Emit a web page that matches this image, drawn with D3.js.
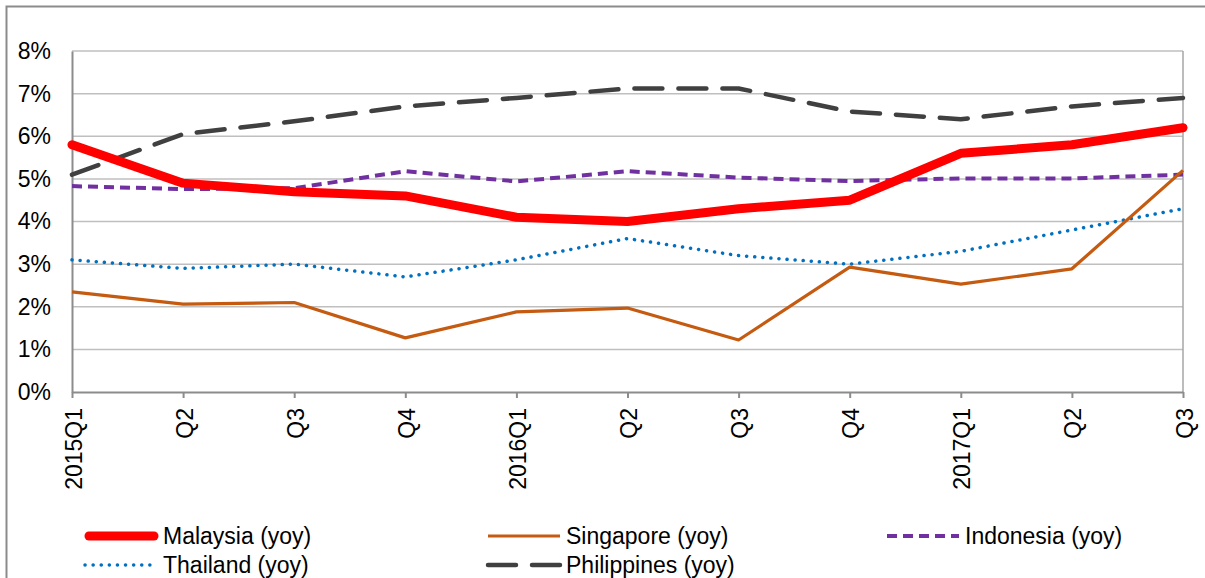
<!DOCTYPE html>
<html>
<head>
<meta charset="utf-8">
<script src="https://cdn.jsdelivr.net/npm/d3@7"></script>
<style>
  body { margin: 0; background: #fff; }
  #chart { width: 1205px; height: 578px; }
  text { font-family: "Liberation Sans", Arial, sans-serif; fill: #000; }
</style>
</head>
<body>
<div id="chart"></div>
<script>
// quarter labels along the x axis
const quarters = ['2015Q1', 'Q2', 'Q3', 'Q4', '2016Q1', 'Q2', 'Q3', 'Q4', '2017Q1', 'Q2', 'Q3'];
const yTicks = [0, 1, 2, 3, 4, 5, 6, 7, 8];

// yoy growth, %
const malaysia    = [5.8, 4.9, 4.7, 4.6, 4.1, 4.0, 4.3, 4.5, 5.6, 5.8, 6.2];
const singapore   = [2.35, 2.06, 2.1, 1.27, 1.88, 1.97, 1.22, 2.93, 2.53, 2.89, 5.2];
const indonesia   = [4.83, 4.76, 4.78, 5.18, 4.94, 5.18, 5.03, 4.95, 5.01, 5.01, 5.1];
const thailand    = [3.1, 2.9, 3.0, 2.7, 3.1, 3.6, 3.2, 3.0, 3.3, 3.8, 4.3];
const philippines = [5.1, 6.05, 6.35, 6.7, 6.9, 7.12, 7.12, 6.58, 6.4, 6.7, 6.9];

const series = [
  { name: 'Malaysia (yoy)', values: malaysia, color: '#FF0000', width: 9, dash: null, cap: 'round' },
  { name: 'Singapore (yoy)', values: singapore, color: '#C55A11', width: 3.2, dash: null, cap: 'butt' },
  { name: 'Indonesia (yoy)', values: indonesia, color: '#7030A0', width: 4, dash: '10,6', cap: 'butt' },
  { name: 'Thailand (yoy)', values: thailand, color: '#0070C0', width: 3.5, dash: '0.1,8', cap: 'round' },
  { name: 'Philippines (yoy)', values: philippines, color: '#404040', width: 4.5, dash: '28,16', cap: 'round' }
];

const svg = d3.select('#chart').append('svg')
  .attr('width', 1205).attr('height', 578);

// chart frame
svg.append('rect')
  .attr('x', 6.5).attr('y', 6.5).attr('width', 1210).attr('height', 580)
  .attr('fill', 'none').attr('stroke', '#8c8c8c').attr('stroke-width', 2);

const mLeft = 72, mRight = 1183, mTop = 51, mBottom = 392;
const fontSize = 23;

const x = d3.scalePoint().domain(d3.range(quarters.length)).range([mLeft, mRight]);
const y = d3.scaleLinear().domain([0, 8]).range([mBottom, mTop]);

// gridlines
svg.append('g').selectAll('line')
  .data(yTicks.filter(d => d > 0))
  .join('line')
  .attr('x1', mLeft).attr('x2', mRight)
  .attr('y1', d => y(d)).attr('y2', d => y(d))
  .attr('stroke', '#bfbfbf').attr('stroke-width', 1.5);

// right border of plot
svg.append('line')
  .attr('x1', mRight).attr('x2', mRight).attr('y1', mTop).attr('y2', mBottom)
  .attr('stroke', '#a6a6a6').attr('stroke-width', 1.5);

// y axis
const yAxis = svg.append('g')
  .attr('transform', `translate(${mLeft},0)`)
  .call(d3.axisLeft(y).tickValues(yTicks).tickFormat(d => d + '%').tickSize(0).tickPadding(21));
yAxis.select('.domain').attr('stroke', '#8c8c8c').attr('stroke-width', 2);
yAxis.selectAll('text').attr('font-size', fontSize).attr('fill', '#000')
  .style('font-family', '"Liberation Sans", Arial, sans-serif');

// x axis
const xAxis = svg.append('g')
  .attr('transform', `translate(0,${mBottom})`)
  .call(d3.axisBottom(x).tickFormat(i => quarters[i]).tickSize(6).tickSizeOuter(0));
xAxis.select('.domain').attr('stroke', '#8c8c8c').attr('stroke-width', 2);
xAxis.selectAll('.tick line').attr('stroke', '#8c8c8c').attr('stroke-width', 2);
xAxis.selectAll('text')
  .attr('font-size', fontSize).attr('fill', '#000')
  .style('font-family', '"Liberation Sans", Arial, sans-serif')
  .attr('transform', 'rotate(-90)')
  .attr('text-anchor', 'end')
  .attr('x', -16).attr('y', 1).attr('dy', '0.35em');

// lines, Philippines drawn first so Malaysia sits on top
const line = d3.line().x((d, i) => x(i)).y(d => y(d));
svg.append('g').selectAll('path')
  .data(series.slice().reverse())
  .join('path')
  .attr('d', d => line(d.values))
  .attr('fill', 'none')
  .attr('stroke', d => d.color)
  .attr('stroke-width', d => d.width)
  .attr('stroke-dasharray', d => d.dash)
  .attr('stroke-linecap', d => d.cap)
  .attr('stroke-linejoin', 'round');

// legend
const legendPos = [[85, 536], [488, 536], [887, 536], [85, 565], [488, 565]];
const legend = svg.append('g').selectAll('g')
  .data(series)
  .join('g')
  .attr('transform', (d, i) => `translate(${legendPos[i][0]},${legendPos[i][1]})`);
legend.append('line')
  .attr('x1', d => d.cap === 'round' && !d.dash ? 4 : 0).attr('x2', d => d.cap === 'round' && !d.dash ? 69 : 72)
  .attr('y1', 0).attr('y2', 0)
  .attr('stroke', d => d.color)
  .attr('stroke-width', d => d.width)
  .attr('stroke-dasharray', d => d.dash)
  .attr('stroke-linecap', d => d.cap);
legend.append('text')
  .attr('x', 78).attr('y', 7.5)
  .attr('font-size', fontSize)
  .text(d => d.name);
</script>
</body>
</html>
